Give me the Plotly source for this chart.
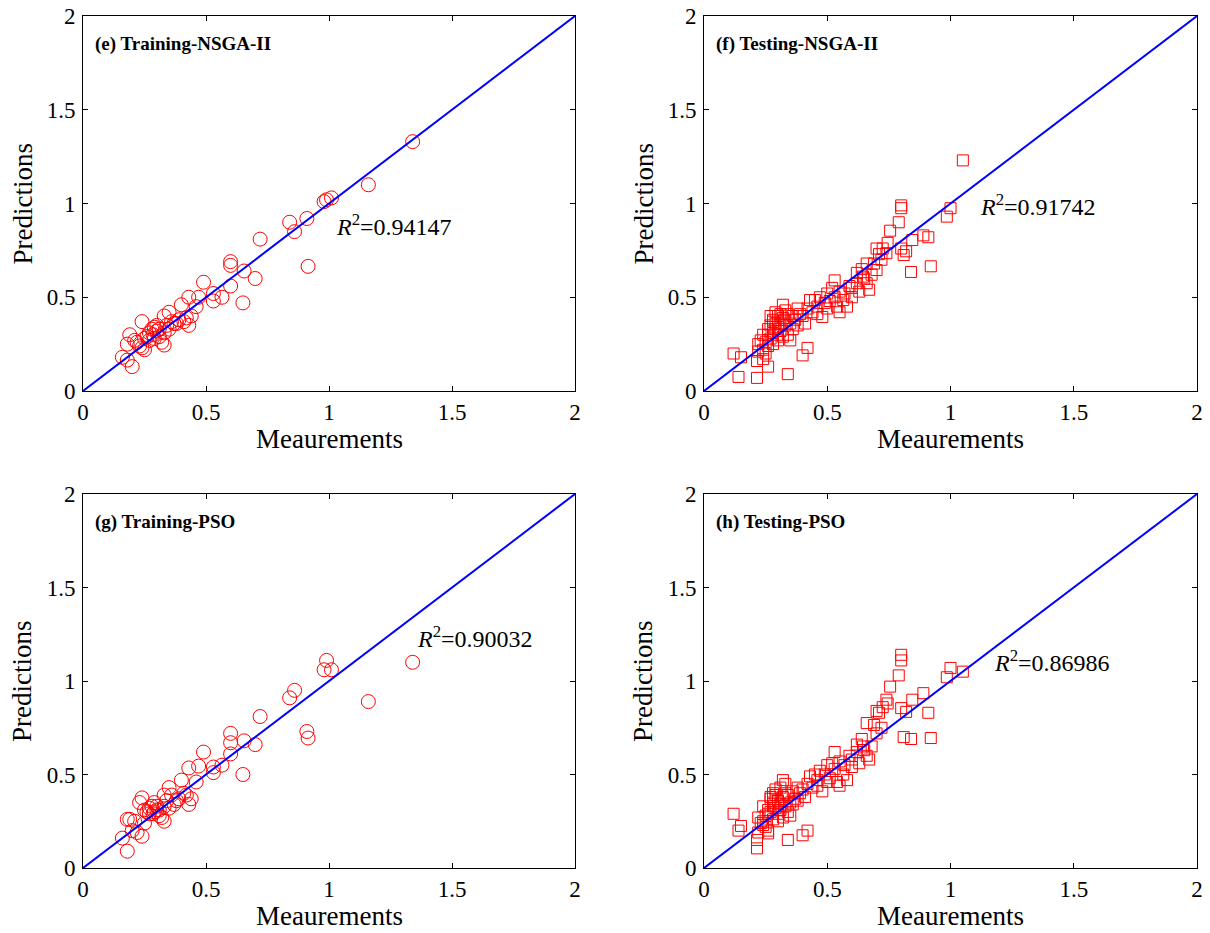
import plotly.graph_objects as go

# ---------------- Data ----------------
# Training set: measurements shared by panels (e) and (g)
train_meas = [1.34, 1.16, 0.99, 1.01, 0.98, 0.91, 0.915, 0.84, 0.86, 0.72,
              0.60, 0.60, 0.60, 0.655, 0.70, 0.65, 0.49, 0.53, 0.53, 0.565,
              0.47, 0.43, 0.46, 0.40, 0.35, 0.33, 0.39, 0.41, 0.43, 0.42,
              0.38, 0.44, 0.24, 0.27, 0.28, 0.26, 0.30, 0.285, 0.33, 0.32,
              0.33, 0.19, 0.18, 0.21, 0.23, 0.25, 0.16, 0.18, 0.20, 0.29,
              0.30, 0.34, 0.36, 0.37, 0.31, 0.27, 0.24, 0.22, 0.35, 0.29,
              0.31, 0.25]
train_pred_nsga = [1.33, 1.10, 1.02, 1.03, 1.01, 0.92, 0.665, 0.90, 0.85, 0.81,
                   0.69, 0.67, 0.56, 0.64, 0.60, 0.47, 0.58, 0.52, 0.48, 0.50,
                   0.50, 0.50, 0.45, 0.46, 0.42, 0.40, 0.38, 0.37, 0.35, 0.39,
                   0.36, 0.40, 0.37, 0.31, 0.33, 0.29, 0.32, 0.30, 0.31, 0.26,
                   0.245, 0.30, 0.25, 0.27, 0.24, 0.22, 0.18, 0.165, 0.13, 0.34,
                   0.35, 0.35, 0.37, 0.36, 0.29, 0.27, 0.23, 0.26, 0.33, 0.28,
                   0.33, 0.28]
train_pred_pso = [1.10, 0.89, 1.11, 1.06, 1.06, 0.73, 0.695, 0.91, 0.95, 0.81,
                  0.72, 0.67, 0.61, 0.68, 0.66, 0.50, 0.62, 0.54, 0.51, 0.55,
                  0.545, 0.535, 0.46, 0.47, 0.43, 0.39, 0.37, 0.40, 0.34, 0.39,
                  0.36, 0.37, 0.375, 0.32, 0.33, 0.30, 0.31, 0.29, 0.33, 0.27,
                  0.25, 0.26, 0.26, 0.25, 0.35, 0.24, 0.16, 0.09, 0.20, 0.35,
                  0.33, 0.36, 0.39, 0.34, 0.28, 0.29, 0.17, 0.19, 0.32, 0.30,
                  0.31, 0.31]

# Testing set: measurements shared by panels (f) and (h)
test_meas = [0.12, 0.15, 0.14, 0.215, 0.34, 0.215, 0.26, 0.40, 0.42, 0.24,
             0.25, 0.26, 0.27, 0.28, 0.29, 0.30, 0.32, 0.27, 0.28, 0.29,
             0.30, 0.31, 0.32, 0.33, 0.34, 0.35, 0.22, 0.23, 0.25, 0.26,
             0.27, 0.28, 0.29, 0.30, 0.31, 0.33, 0.34, 0.35, 0.36, 0.37,
             0.38, 0.24, 0.26, 0.28, 0.30, 0.32, 0.22, 0.24, 0.40, 0.42,
             0.43, 0.45, 0.44, 0.46, 0.47, 0.48, 0.49, 0.50, 0.51, 0.52,
             0.53, 0.53, 0.54, 0.55, 0.565, 0.58, 0.57, 0.59, 0.60, 0.60,
             0.62, 0.645, 0.66, 0.67, 0.63, 0.41, 0.39, 0.38, 0.46, 0.50,
             0.55, 0.66, 0.69, 0.70, 0.62, 0.64, 0.68, 0.70, 0.725, 0.745,
             0.71, 0.74, 0.755, 0.79, 0.80, 0.80, 0.80, 0.82, 0.81, 0.845,
             0.84, 0.89, 0.91, 0.92, 0.985, 1.00, 1.05, 0.72, 0.65, 0.36,
             0.33, 0.31]
test_pred_nsga = [0.20, 0.18, 0.075, 0.07, 0.09, 0.16, 0.13, 0.19, 0.23, 0.22,
                  0.26, 0.30, 0.35, 0.38, 0.42, 0.40, 0.46, 0.40, 0.37, 0.33,
                  0.30, 0.36, 0.39, 0.35, 0.30, 0.27, 0.25, 0.27, 0.20, 0.24,
                  0.28, 0.31, 0.36, 0.34, 0.32, 0.38, 0.41, 0.36, 0.33, 0.38,
                  0.35, 0.30, 0.33, 0.25, 0.27, 0.29, 0.21, 0.17, 0.40, 0.44,
                  0.485, 0.485, 0.42, 0.45, 0.50, 0.395, 0.47, 0.52, 0.48, 0.55,
                  0.59, 0.50, 0.45, 0.42, 0.485, 0.45, 0.52, 0.56, 0.50, 0.55,
                  0.575, 0.61, 0.575, 0.54, 0.53, 0.36, 0.41, 0.44, 0.41, 0.44,
                  0.53, 0.68, 0.68, 0.645, 0.63, 0.65, 0.62, 0.76, 0.76, 0.79,
                  0.73, 0.735, 0.855, 0.90, 0.99, 0.975, 0.76, 0.745, 0.725, 0.805,
                  0.635, 0.83, 0.82, 0.665, 0.93, 0.975, 1.23, 0.70, 0.60, 0.40,
                  0.43, 0.41]
test_pred_pso = [0.29, 0.225, 0.20, 0.105, 0.15, 0.15, 0.185, 0.175, 0.20, 0.25,
                 0.28, 0.31, 0.37, 0.40, 0.42, 0.36, 0.47, 0.38, 0.35, 0.32,
                 0.29, 0.34, 0.38, 0.33, 0.30, 0.28, 0.27, 0.24, 0.22, 0.20,
                 0.30, 0.33, 0.39, 0.36, 0.31, 0.40, 0.39, 0.35, 0.34, 0.37,
                 0.36, 0.33, 0.29, 0.26, 0.25, 0.27, 0.19, 0.23, 0.42, 0.45,
                 0.49, 0.50, 0.43, 0.47, 0.52, 0.41, 0.50, 0.55, 0.48, 0.56,
                 0.62, 0.53, 0.46, 0.44, 0.50, 0.47, 0.55, 0.60, 0.54, 0.58,
                 0.62, 0.65, 0.60, 0.58, 0.56, 0.38, 0.40, 0.43, 0.44, 0.46,
                 0.57, 0.775, 0.765, 0.72, 0.66, 0.69, 0.65, 0.84, 0.86, 0.88,
                 0.83, 0.90, 0.97, 1.03, 1.14, 1.11, 0.855, 0.835, 0.70, 0.90,
                 0.69, 0.935, 0.83, 0.695, 1.02, 1.07, 1.05, 0.75, 0.63, 0.41,
                 0.45, 0.43]

panel_titles = ["(e) Training-NSGA-II", "(f) Testing-NSGA-II",
                "(g) Training-PSO", "(h) Testing-PSO"]
r2_labels = ["0.94147", "0.91742", "0.90032", "0.86986"]
r2_pos = [(1.02, 0.885), (1.11, 0.99), (1.35, 1.235), (1.17, 1.105)]
x_title = "Meaurements"
y_title = "Predictions"
tick_vals = [0, 0.5, 1, 1.5, 2]
tick_text = ["0", "0.5", "1", "1.5", "2"]
line_ends = [0, 2]

panels = [
    (train_meas, train_pred_nsga, "circle-open", 14),
    (test_meas, test_pred_nsga, "square-open", 11),
    (train_meas, train_pred_pso, "circle-open", 14),
    (test_meas, test_pred_pso, "square-open", 11),
]

# ---------------- Figure ----------------
W, H = 1210, 933
xdoms = [(83 / W, 575 / W), (704 / W, 1197 / W)]
ydoms = [(1 - 391 / H, 1 - 16 / H), (1 - 868 / H, 1 - 494 / H)]

fig = go.Figure()
FF = "Liberation Serif"

for i, (xs, ys, sym, sz) in enumerate(panels):
    r, c = divmod(i, 2)
    ax = "" if i == 0 else str(i + 1)
    xa, ya = "x" + ax, "y" + ax
    fig.add_trace(go.Scatter(
        x=xs, y=ys, mode="markers", xaxis=xa, yaxis=ya,
        marker=dict(symbol=sym, size=sz, color="#ff0000",
                    line=dict(width=1, color="#ff0000")),
        showlegend=False, hoverinfo="skip"))
    fig.add_trace(go.Scatter(
        x=line_ends, y=line_ends, mode="lines", xaxis=xa, yaxis=ya,
        line=dict(color="#0000ff", width=2), showlegend=False,
        hoverinfo="skip"))
    axis_common = dict(range=[0, 2], tickvals=tick_vals, ticktext=tick_text,
                       ticks="inside", ticklen=5, tickcolor="black",
                       showline=True, linecolor="black", linewidth=1,
                       mirror="allticks", showgrid=False, zeroline=False,
                       ticklabeloverflow="allow",
                       tickfont=dict(family=FF, size=23, color="black"))
    fig.update_layout(**{
        "xaxis" + ax: dict(domain=xdoms[c], anchor=ya, ticklabelstandoff=0,
                           **axis_common),
        "yaxis" + ax: dict(domain=ydoms[r], anchor=xa, ticklabelstandoff=2,
                           **axis_common),
    })
    # axis titles
    fig.add_annotation(
        xref=xa + " domain", yref=ya + " domain", x=0.5, y=0,
        yshift=-48, xanchor="center", yanchor="middle", showarrow=False,
        text=x_title, font=dict(family=FF, size=27, color="black"))
    fig.add_annotation(
        xref=xa + " domain", yref=ya + " domain", x=0, y=0.5,
        xshift=-61, xanchor="center", yanchor="middle", showarrow=False,
        textangle=-90, text=y_title,
        font=dict(family=FF, size=27, color="black"))
    fig.add_annotation(
        xref=xa + " domain", yref=ya + " domain", x=0.02, y=0.925,
        xanchor="left", yanchor="middle", showarrow=False,
        text="<b>" + panel_titles[i] + "</b>",
        font=dict(family=FF, size=19, color="black"))
    fig.add_annotation(
        xref=xa, yref=ya, x=r2_pos[i][0], y=r2_pos[i][1],
        xanchor="left", yanchor="middle", showarrow=False,
        text="<i>R</i><sup>2</sup>=" + r2_labels[i],
        font=dict(family=FF, size=24, color="black"))

fig.update_layout(width=W, height=H,
                  margin=dict(l=0, r=0, t=0, b=0, autoexpand=False),
                  paper_bgcolor="white", plot_bgcolor="white")

# remove the default page margin so the figure fills the window exactly
fig.write_html("out.html",
               config={"displayModeBar": False, "staticPlot": True},
               post_script="document.body.style.margin='0';"
                           "document.body.style.overflow='hidden';")
